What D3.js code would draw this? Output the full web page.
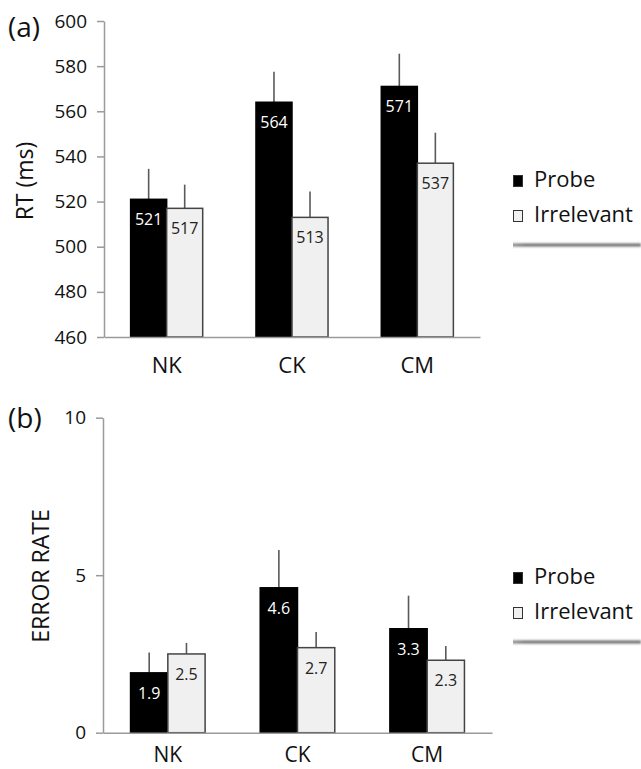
<!DOCTYPE html>
<html>
<head>
<meta charset="utf-8">
<script src="https://cdn.jsdelivr.net/npm/d3@7"></script>
<style>
  html, body { margin: 0; padding: 0; background: #fff; }
  svg { display: block; font-family: "Open Sans", sans-serif; }
</style>
</head>
<body>
<svg id="chart" width="641" height="769"></svg>
<script>
const categories = ["NK", "CK", "CM"];
const seriesNames = ["Probe", "Irrelevant"];

const rtProbe = [521, 564, 571];
const rtIrrelevant = [517, 513, 537];
const rtProbeErr = [13.5, 13.5, 14.5];
const rtIrrelevantErr = [10.5, 11.5, 13.5];
const rtTicks = [460, 480, 500, 520, 540, 560, 580, 600];

const erProbe = [1.9, 4.6, 3.3];
const erIrrelevant = [2.5, 2.7, 2.3];
const erProbeErr = [0.65, 1.2, 1.05];
const erIrrelevantErr = [0.35, 0.5, 0.45];
const erTicks = [0, 5, 10];

const svg = d3.select("#chart");
const fills = { Probe: "#000000", Irrelevant: "#f0f0f0" };
const axisColor = "#9a9a9a";
const FONT = "Open Sans, sans-serif";

const defs = svg.append("defs");
const blur = defs.append("filter").attr("id", "shadowBlur")
  .attr("filterUnits", "userSpaceOnUse")
  .attr("x", 0).attr("y", 0).attr("width", 641).attr("height", 769);
blur.append("feGaussianBlur").attr("stdDeviation", "1.2");
const grad = defs.append("linearGradient").attr("id", "shadowGrad")
  .attr("x1", "0%").attr("x2", "100%").attr("y1", "0%").attr("y2", "0%");
grad.append("stop").attr("offset", "0%").attr("stop-color", "#999");
grad.append("stop").attr("offset", "15%").attr("stop-color", "#6a6a6a");
grad.append("stop").attr("offset", "100%").attr("stop-color", "#6a6a6a");

function panel(cfg) {
  const g = svg.append("g");
  const x0 = d3.scaleBand().domain(categories).range([cfg.x0, cfg.x1])
    .paddingInner(0.425).paddingOuter(0.2125);
  const x1 = d3.scaleBand().domain(seriesNames).range([0, x0.bandwidth()]);
  const y = d3.scaleLinear().domain(cfg.domain).range([cfg.yBottom, cfg.yTop]);

  const rows = categories.map((c, i) => ({
    cat: c,
    items: [
      { s: "Probe", v: cfg.probe[i], e: cfg.probeErr[i] },
      { s: "Irrelevant", v: cfg.irr[i], e: cfg.irrErr[i] }
    ]
  }));

  const groups = g.selectAll("g.cat").data(rows).join("g")
    .attr("class", "cat")
    .attr("transform", d => `translate(${x0(d.cat)},0)`);

  // error bars (upper only, no caps)
  groups.selectAll("line.err").data(d => d.items).join("line")
    .attr("class", "err")
    .attr("x1", d => x1(d.s) + x1.bandwidth() / 2)
    .attr("x2", d => x1(d.s) + x1.bandwidth() / 2)
    .attr("y1", d => y(d.v))
    .attr("y2", d => y(d.v + d.e))
    .attr("stroke", "#5a5a5a")
    .attr("stroke-width", 1.6);

  groups.selectAll("rect").data(d => d.items).join("rect")
    .attr("x", d => x1(d.s))
    .attr("width", x1.bandwidth())
    .attr("y", d => y(d.v))
    .attr("height", d => y(cfg.domain[0]) - y(d.v))
    .attr("fill", d => fills[d.s])
    .attr("stroke", d => d.s === "Probe" ? "#000" : "#444")
    .attr("stroke-width", 1.5);

  groups.selectAll("text.val").data(d => d.items).join("text")
    .attr("class", "val")
    .attr("x", d => x1(d.s) + x1.bandwidth() / 2)
    .attr("y", d => y(d.v) + 26)
    .attr("text-anchor", "middle")
    .attr("font-family", FONT)
    .attr("font-size", 16)
    .attr("fill", d => d.s === "Probe" ? "#fff" : "#222")
    .text(d => cfg.fmt(d.v));

  // y axis
  const yAxis = g.append("g")
    .attr("transform", `translate(${cfg.x0},0)`)
    .call(d3.axisLeft(y).tickValues(cfg.ticks).tickSize(7).tickPadding(10)
      .tickSizeOuter(0).tickFormat(d3.format("d")));
  yAxis.attr("font-family", FONT).attr("font-size", 19);
  yAxis.select(".domain").attr("stroke", axisColor).attr("stroke-width", 1.5);
  yAxis.selectAll(".tick line").attr("stroke", axisColor).attr("stroke-width", 1.5);
  yAxis.selectAll(".tick text").attr("fill", "#111");

  // x axis
  const xAxis = g.append("g")
    .attr("transform", `translate(0,${cfg.yBottom})`)
    .call(d3.axisBottom(x0).tickSize(0).tickPadding(cfg.xPad).tickSizeOuter(0));
  xAxis.attr("font-family", FONT).attr("font-size", cfg.xFont);
  xAxis.select(".domain").attr("stroke", axisColor).attr("stroke-width", 1.5);
  xAxis.selectAll(".tick text").attr("fill", "#111");

  // y title
  g.append("text")
    .attr("transform", `translate(${cfg.titleX},${cfg.titleY}) rotate(-90)`)
    .attr("text-anchor", "middle")
    .attr("dominant-baseline", "central")
    .attr("font-family", FONT)
    .attr("font-size", 23)
    .attr("fill", "#111")
    .text(cfg.title);

  // panel letter
  g.append("text")
    .attr("x", 8).attr("y", cfg.letterY)
    .attr("font-family", FONT)
    .attr("font-size", 28)
    .attr("fill", "#111")
    .text(cfg.letter);

  // legend
  const lg = g.append("g").attr("transform", `translate(513,${cfg.legendY})`);
  const legItems = lg.selectAll("g").data(seriesNames).join("g")
    .attr("transform", (d, i) => `translate(0,${i * 35})`);
  legItems.append("rect")
    .attr("x", 0.5).attr("y", -11.5).attr("width", 9).attr("height", 11)
    .attr("fill", d => fills[d])
    .attr("stroke", "#333").attr("stroke-width", 1);
  legItems.append("text")
    .attr("x", 21).attr("y", 0)
    .attr("font-family", FONT)
    .attr("font-size", 22)
    .attr("fill", "#111")
    .text(d => d);
  lg.append("rect")
    .attr("x", -8).attr("width", 136)
    .attr("y", 56.5).attr("height", 3)
    .attr("fill", "url(#shadowGrad)")
    .attr("filter", "url(#shadowBlur)");
}

panel({
  x0: 104, x1: 480, yTop: 21, yBottom: 337, domain: [460, 600],
  ticks: rtTicks, probe: rtProbe, irr: rtIrrelevant,
  probeErr: rtProbeErr, irrErr: rtIrrelevantErr,
  fmt: d3.format("d"), title: "RT (ms)", titleX: 24, titleY: 181,
  letter: "(a)", letterY: 37, legendY: 187, xPad: 20, xFont: 22
});

panel({
  x0: 103, x1: 492, yTop: 417.7, yBottom: 732.7, domain: [0, 10],
  ticks: erTicks, probe: erProbe, irr: erIrrelevant,
  probeErr: erProbeErr, irrErr: erIrrelevantErr,
  fmt: d3.format(".1f"), title: "ERROR RATE", titleX: 40, titleY: 576,
  letter: "(b)", letterY: 428, legendY: 584, xPad: 14, xFont: 21
});
</script>
</body>
</html>
